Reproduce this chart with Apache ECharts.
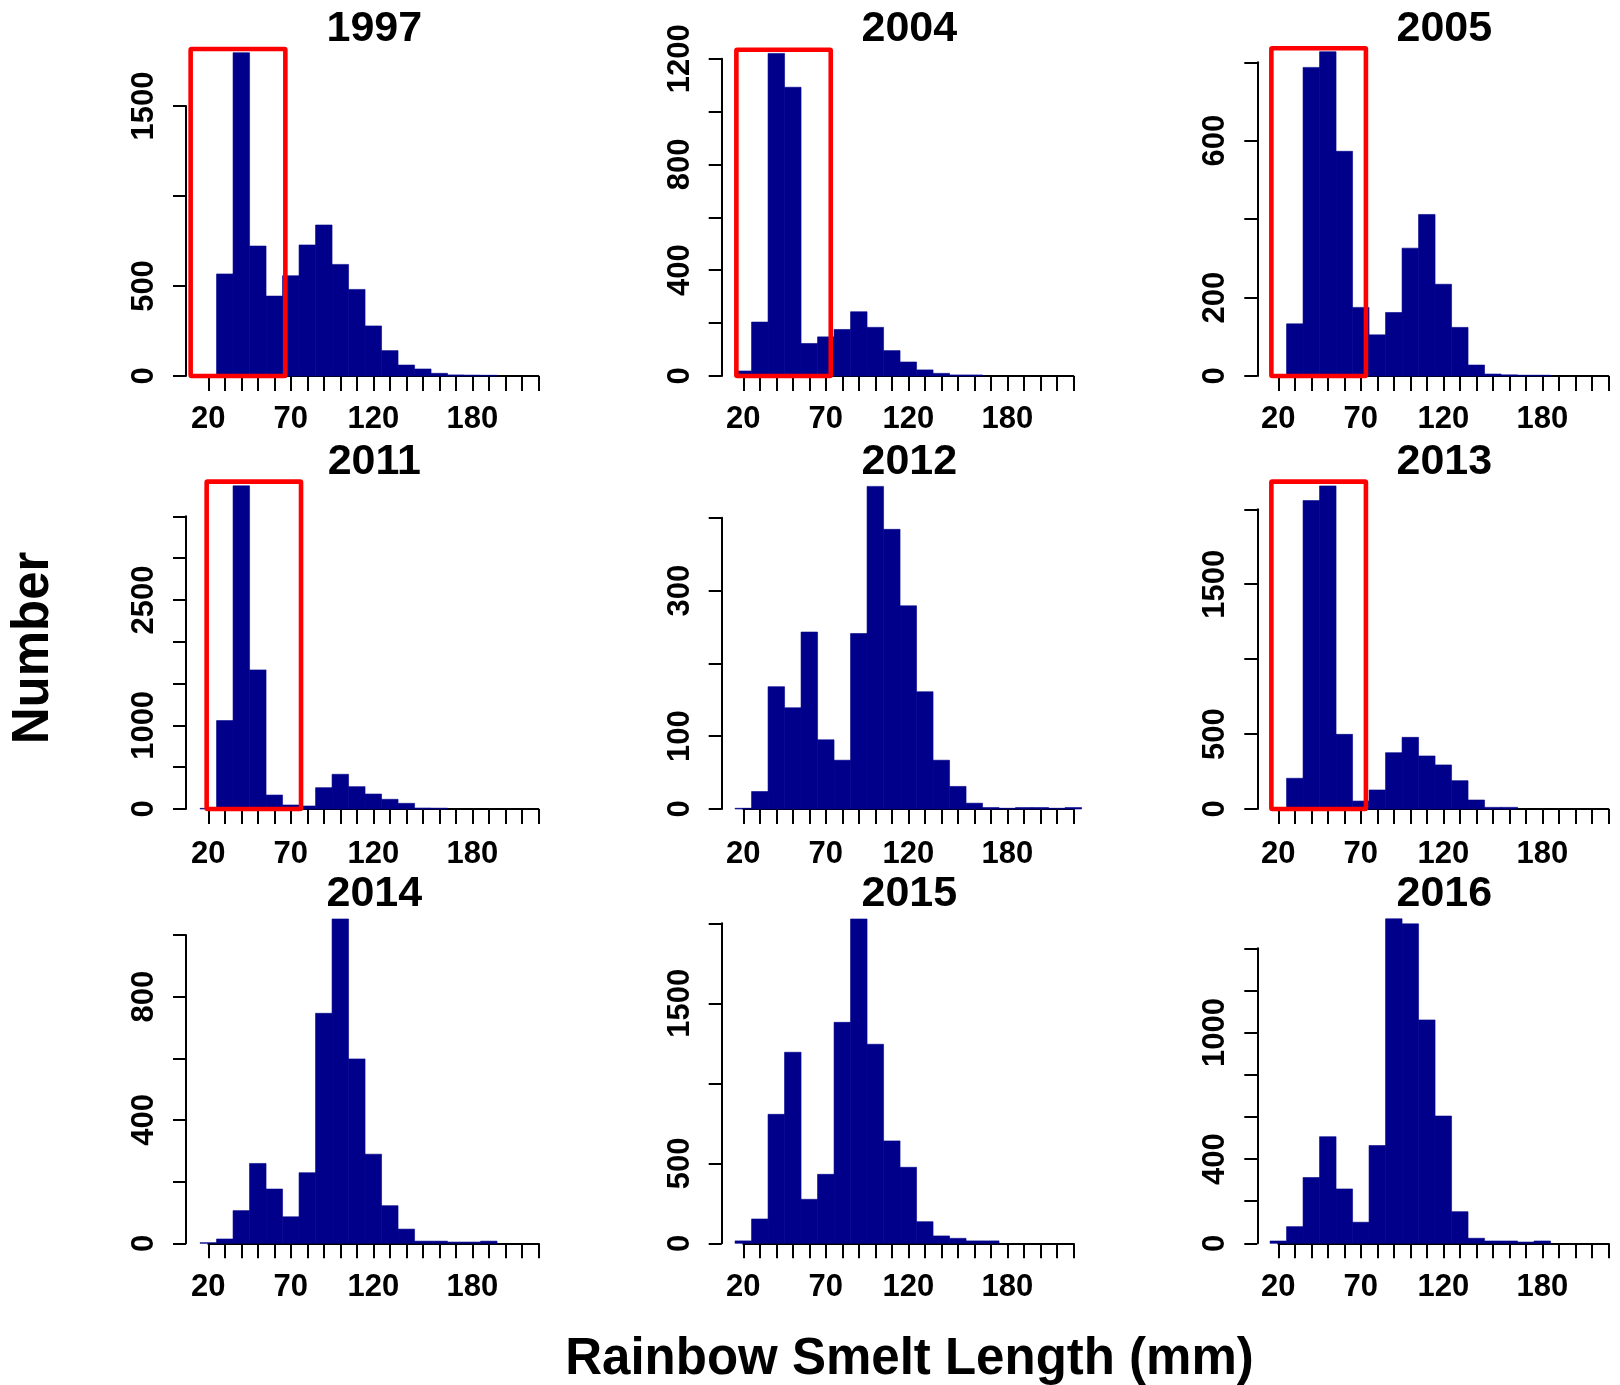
<!DOCTYPE html>
<html><head><meta charset="utf-8">
<script src="https://cdn.jsdelivr.net/npm/echarts@6/dist/echarts.min.js"></script>
<style>html,body{margin:0;padding:0;background:#fff}#c{width:1620px;height:1385px}</style>
</head><body><div id="c"></div>
<script>
// ---------------- DATA ----------------
const years = ['1997', '2004', '2005', '2011', '2012', '2013', '2014', '2015', '2016'];
const binWidth = 10;                       // mm
const firstBin = [25, 15, 25, 15, 15, 25, 15, 15, 15];   // left edge of first bin (mm)

const counts1997 = [567, 1796, 722, 444, 557, 728, 839, 620, 481, 278, 141, 61, 39, 15, 6, 5, 4];
const counts2004 = [19, 204, 1220, 1092, 123, 148, 176, 243, 184, 96, 53, 23, 10, 4, 4];
const counts2005 = [133, 787, 827, 573, 175, 105, 162, 326, 412, 234, 124, 28, 5, 3, 2, 2];
const counts2011 = [8, 1057, 3864, 1663, 167, 48, 36, 255, 415, 267, 179, 116, 68, 12, 10];
const counts2012 = [1, 24, 168, 139, 243, 95, 67, 241, 443, 384, 279, 161, 67, 31, 8, 2, 1, 2, 2, 1, 2];
const counts2013 = [205, 2058, 2156, 498, 53, 127, 376, 478, 354, 294, 189, 60, 11, 11];
const counts2014 = [2, 14, 106, 259, 176, 86, 229, 746, 1052, 598, 289, 122, 46, 7, 7, 4, 4, 7];
const counts2015 = [15, 152, 806, 1194, 275, 431, 1381, 2027, 1244, 640, 475, 135, 46, 31, 15, 15];
const counts2016 = [11, 79, 312, 506, 258, 100, 464, 1540, 1516, 1060, 604, 150, 24, 11, 11, 6, 11];

// y axis: top tick, tick step, labelled ticks
const yMax  = [1500, 1200, 800, 3500, 400, 2000, 1000, 2000, 1400];
const yStep = [500, 200, 200, 500, 100, 500, 200, 500, 200];
const yLabels1997 = [0, 500, 1500];
const yLabels2004 = [0, 400, 800, 1200];
const yLabels2005 = [0, 200, 600];
const yLabels2011 = [0, 1000, 2500];
const yLabels2012 = [0, 100, 300];
const yLabels2013 = [0, 500, 1500];
const yLabels2014 = [0, 400, 800];
const yLabels2015 = [0, 500, 1500];
const yLabels2016 = [0, 400, 1000];

// x axis
const xMin = 20, xMax = 220, xStep = 10;
const xLabels = [20, 70, 120, 180];

// red highlight boxes [xLeft, xRight, yBottom, yTop] in data units (null = none)
const box1997 = [9.3, 66.7, 0, 1817];
const box2004 = [15.8, 73, 0, 1234];
const box2005 = [15.8, 73.1, 0, 836];
const box2011 = [19, 76.2, 0, 3915];
const box2013 = [15.8, 73.1, 0, 2185];

const xTitle = 'Rainbow Smelt Length (mm)';
const yTitle = 'Number';

// ---------------- LAYOUT ----------------
const countsAll = [counts1997, counts2004, counts2005, counts2011, counts2012, counts2013, counts2014, counts2015, counts2016];
const yLabelsAll = [yLabels1997, yLabels2004, yLabels2005, yLabels2011, yLabels2012, yLabels2013, yLabels2014, yLabels2015, yLabels2016];
const boxesAll = [box1997, box2004, box2005, box2011, null, box2013, null, null, null];

const colX20 = [208.3, 743.3, 1278.3];
const plotW = 330;
const rowZero = [376, 809, 1243.3];
const gridTop = [106, 58.7, 62.3, 516.3, 517.7, 509.3, 935, 923.3, 948.3];
const xOff = [2.3, 3.7, 2.7];
const yOff = [22.3, 21.6, 21];
const titleY = [29.2, 461.7, 894.2];

const FONT = '"Liberation Sans", Arial, sans-serif';
const BAR = '#00008B';

const grids = [], xAxes = [], yAxes = [], series = [], graphics = [];
years.forEach((yr, i) => {
  const r = Math.floor(i / 3), c = i % 3;
  grids.push({left: colX20[c], width: plotW, top: gridTop[i], height: rowZero[r] - gridTop[i], containLabel: false});
  xAxes.push({
    type: 'value', gridIndex: i, min: xMin, max: xMax, interval: xStep, position: 'bottom', offset: xOff[r],
    axisLine: {show: true, lineStyle: {color: '#000', width: 2}},
    axisTick: {show: true, length: 15, lineStyle: {color: '#000', width: 2}},
    splitLine: {show: false},
    axisLabel: {show: true, margin: 26, color: '#000', fontFamily: FONT, fontWeight: 'bold', fontSize: 31,
      formatter: v => xLabels.includes(v) ? String(v) : ''}
  });
  const labs = yLabelsAll[i];
  yAxes.push({
    type: 'value', gridIndex: i, min: 0, max: yMax[i], interval: yStep[i], position: 'left', offset: yOff[c],
    axisLine: {show: true, lineStyle: {color: '#000', width: 2}},
    axisTick: {show: true, length: 13, lineStyle: {color: '#000', width: 2}},
    splitLine: {show: false},
    axisLabel: {show: true, rotate: 90, margin: 26, color: '#000', fontFamily: FONT, fontWeight: 'bold', fontSize: 31,
      formatter: v => labs.includes(v) ? String(v) : ''}
  });
  const data = countsAll[i].map((v, k) => [firstBin[i] + k * binWidth, firstBin[i] + (k + 1) * binWidth, v]);
  series.push({
    type: 'custom', xAxisIndex: i, yAxisIndex: i, clip: false, silent: true, z: 2,
    encode: {x: [0, 1], y: 2},
    data: data,
    renderItem: (params, api) => {
      const p0 = api.coord([api.value(0), 0]);
      const p1 = api.coord([api.value(1), api.value(2)]);
      return {type: 'rect', shape: {x: p0[0], y: p1[1], width: p1[0] - p0[0], height: p0[1] - p1[1]},
        style: {fill: BAR, stroke: BAR, lineWidth: 0.6}};
    }
  });
  const b = boxesAll[i];
  if (b) {
    series.push({
      type: 'custom', xAxisIndex: i, yAxisIndex: i, clip: false, silent: true, z: 5,
      encode: {x: [0, 1], y: [2, 3]},
      data: [b],
      renderItem: (params, api) => {
        const p0 = api.coord([api.value(0), api.value(2)]);
        const p1 = api.coord([api.value(1), api.value(3)]);
        return {type: 'rect', shape: {x: p0[0], y: p1[1], width: p1[0] - p0[0], height: p0[1] - p1[1], r: 1},
          style: {fill: null, stroke: '#FF0000', lineWidth: 4.6}};
      }
    });
  }
  graphics.push({type: 'text', x: colX20[c] + plotW / 2 + 1, y: titleY[r],
    style: {text: yr, fill: '#000', font: 'bold 43px ' + FONT, align: 'center', verticalAlign: 'middle'}});
});

graphics.push({type: 'text', x: 909.5, y: 1360,
  style: {text: xTitle, fill: '#000', font: 'bold 51px ' + FONT, align: 'center', verticalAlign: 'middle'}});
graphics.push({type: 'text', x: 33.7, y: 648, rotation: Math.PI / 2,
  style: {text: yTitle, fill: '#000', font: 'bold 51px ' + FONT, align: 'center', verticalAlign: 'middle'}});

const chart = echarts.init(document.getElementById('c'), null, {renderer: 'canvas'});
chart.setOption({
  animation: false,
  backgroundColor: '#fff',
  grid: grids, xAxis: xAxes, yAxis: yAxes, series: series, graphic: graphics
});
</script></body></html>
